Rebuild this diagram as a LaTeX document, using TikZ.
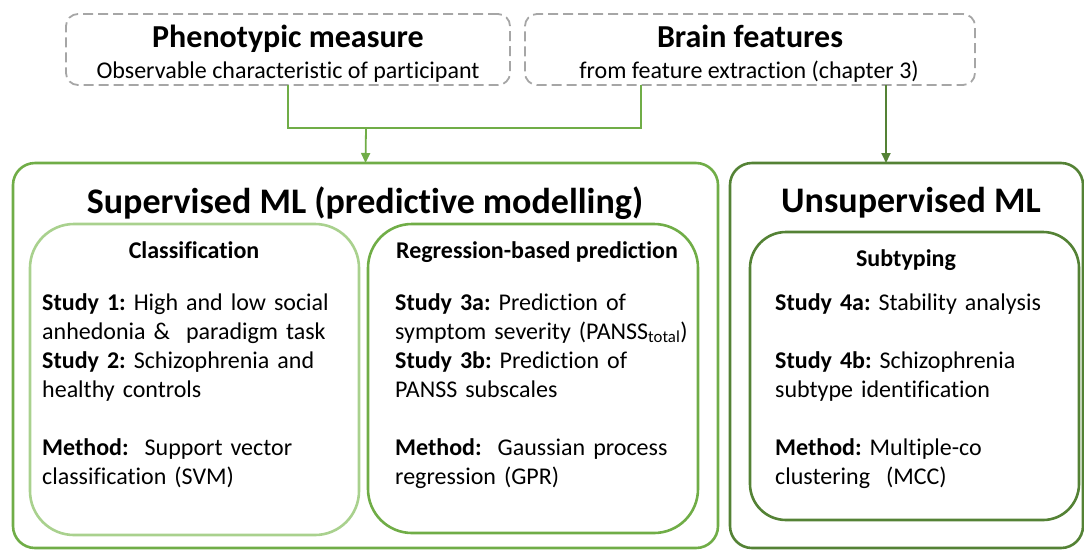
\documentclass[tikz,border=0pt]{standalone}
\usepackage{fontspec}
\setmainfont{Carlito}[Ligatures=NoCommon]
\frenchspacing
\usetikzlibrary{arrows.meta}
\definecolor{gMid}{HTML}{70AD47}
\definecolor{gLight}{HTML}{A9D18E}
\definecolor{gDark}{HTML}{548235}
\definecolor{dashgray}{HTML}{A6A6A6}
\tikzset{
  plainbox/.style={rectangle, inner sep=0pt, outer sep=0pt},
  inputbox/.style={plainbox, draw=dashgray, line width=1.8pt, dash pattern=on 10pt off 5pt, rounded corners=12pt},
  groupbox/.style={plainbox, line width=2.6pt, rounded corners=22pt},
  methodbox/.style={plainbox, line width=2.6pt, rounded corners=44pt},
  bigtitle/.style={inner sep=0pt, anchor=base, font=\fontsize{36}{40}\selectfont\bfseries},
  inputtitle/.style={inner sep=0pt, anchor=base, font=\fontsize{32}{36}\selectfont\bfseries},
  inputsub/.style={inner sep=0pt, anchor=base, font=\fontsize{24}{28}\selectfont},
  subhead/.style={inner sep=0pt, anchor=base, font=\fontsize{24}{29}\selectfont\bfseries},
  bodytext/.style={inner sep=0pt, anchor=base west, align=left, text width=360pt, font=\fontsize{24}{29}\selectfont},
  link/.style={line width=1.8pt, draw=gMid},
  arrowhead/.style={-{Triangle[length=10pt,width=9pt]}},
}
\begin{document}
\begin{tikzpicture}[x=1pt,y=-1pt]
\useasboundingbox (0,0) rectangle (1084,550);

% input boxes
\node[inputbox, minimum width=444pt, minimum height=71pt] (pheno) at (288,49.5) {};
\node[inputbox, minimum width=450pt, minimum height=71pt] (brain) at (750,49.5) {};
\node[inputtitle] (phenoT) at (288,47) {Phenotypic measure};
\node[inputsub] (phenoS) at (288,78) {Observable characteristic of participant};
\node[inputtitle] (brainT) at (750,47) {Brain features};
\node[inputsub] (brainS) at (749,78) {from feature extraction (chapter 3)};

% group boxes
\node[groupbox, draw=gMid, minimum width=705pt, minimum height=385pt] (sup) at (365.5,355.5) {};
\node[groupbox, draw=gDark, minimum width=353pt, minimum height=385pt] (unsup) at (906.5,355.5) {};
\node[bigtitle] (supT) at (365,213) {Supervised ML (predictive modelling)};
\node[bigtitle] (unsupT) at (911,212) {Unsupervised ML};

% method boxes
\node[methodbox, draw=gLight, minimum width=329pt, minimum height=311pt] (cls) at (194.5,379.5) {};
\node[methodbox, draw=gMid, minimum width=330pt, minimum height=309pt] (reg) at (533,378.5) {};
\node[methodbox, rounded corners=36pt, draw=gDark, minimum width=329pt, minimum height=288pt] (sub) at (914.5,376) {};

\node[subhead] (clsT) at (194,258) {Classification};
\node[subhead] (regT) at (537,258) {Regression-based prediction};
\node[subhead] (subT) at (906,266) {Subtyping};

\node[bodytext] (clsB) at (42,310) {\textbf{Study 1:} High and low social\\
anhedonia \&\ \ paradigm task\\
\textbf{Study 2:} Schizophrenia and\\
healthy controls\\[29pt]
\textbf{Method:}\ \ Support vector\\
classification (SVM)};

\node[bodytext] (regB) at (395,310) {\textbf{Study 3a:} Prediction of\\
symptom severity (PANSS\textsubscript{total})\\
\textbf{Study 3b:} Prediction of\\
PANSS subscales\\[29pt]
\textbf{Method:}\ \ Gaussian process\\
regression (GPR)};

\node[bodytext] (subB) at (775,310) {\textbf{Study 4a:} Stability analysis\\[29pt]
\textbf{Study 4b:} Schizophrenia\\
subtype identification\\[29pt]
\textbf{Method:} Multiple-co\\
clustering\ \ (MCC)};

% connectors
\coordinate (join) at (366,128);
\draw[link] (pheno.south) |- (join) -| ([xshift=-109pt]brain.south);
\draw[link, arrowhead] (join) -- (sup.north);
\draw[link, draw=gDark, fill=gDark, arrowhead] ([xshift=136pt]brain.south) -- ([xshift=136pt]brain.south |- unsup.north);
\end{tikzpicture}
\end{document}
